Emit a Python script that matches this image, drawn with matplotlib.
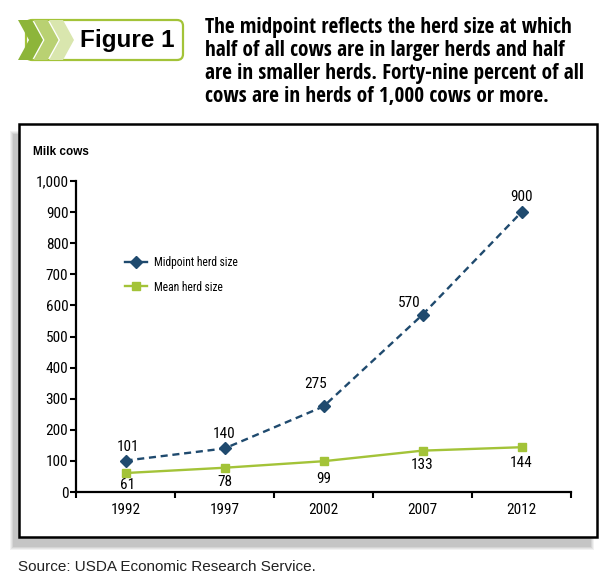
import matplotlib
matplotlib.use("Agg")
import matplotlib.pyplot as plt
from matplotlib.patches import Polygon, Rectangle, FancyBboxPatch
from matplotlib import font_manager
from matplotlib.font_manager import FontProperties

# --- data ---
years = ["1992", "1997", "2002", "2007", "2012"]
midpoint = [101, 140, 275, 570, 900]
mean = [61, 78, 99, 133, 144]
y_ticks = [0, 100, 200, 300, 400, 500, 600, 700, 800, 900, 1000]
y_tick_labels = ["0", "100", "200", "300", "400", "500", "600", "700", "800", "900", "1,000"]

header_lines = [
    "The midpoint reflects the herd size at which",
    "half of all cows are in larger herds and half",
    "are in smaller herds. Forty-nine percent of all",
    "cows are in herds of 1,000 cows or more.",
]

W, H = 610, 588
NAVY = "#1f4a6e"
GREEN = "#a3c338"


def find_narrow(bold):
    # look for a condensed / narrow face among the installed fonts
    best = None
    for f in font_manager.fontManager.ttflist:
        narrow = ("Narrow" in f.name or "Condensed" in f.name
                  or "ondensed" in str(f.stretch) or str(f.stretch) in ("condensed", "semi-condensed"))
        if not narrow or f.style != "normal":
            continue
        w = f.weight if isinstance(f.weight, int) else (700 if f.weight == "bold" else 400)
        if (w >= 600) != bold:
            continue
        score = 0
        if "Liberation" in f.name:
            score = 3
        elif "Roboto" in f.name or "Open Sans" in f.name:
            score = 2
        elif "DejaVu" in f.name:
            score = 1
        if best is None or score > best[0]:
            best = (score, f.fname)
    return best[1] if best else None


def narrow_font(size, bold=False):
    path = find_narrow(bold)
    if path:
        return FontProperties(fname=path, size=size)
    return FontProperties(family="DejaVu Sans", size=size * 0.85,
                          weight="bold" if bold else "normal")


ARIAL = "Liberation Sans"


def fx(x):
    return x / W


def fy(y):
    return 1 - y / H


fig = plt.figure(figsize=(W / 100, H / 100), dpi=100)

# --- header: chevrons + "Figure 1" box ---
top, bot = 20, 60
mid = (top + bot) / 2
box = FancyBboxPatch((fx(26), fy(bot)), fx(183) - fx(26), fy(top) - fy(bot),
                     boxstyle="round,pad=0,rounding_size=0.01",
                     transform=fig.transFigure, fc="white", ec=GREEN, lw=1.6)
fig.add_artist(box)
chev_cols = ["#8db53a", "#b9d172", "#d9e6ae"]
a, d = 14, 11
for i, c in enumerate(chev_cols):
    x0 = 18 + i * 15.5
    pts = [(x0, top), (x0 + a, top), (x0 + a + d, mid), (x0 + a, bot), (x0, bot), (x0 + d, mid)]
    fig.add_artist(Polygon([(fx(px), fy(py)) for px, py in pts], closed=True,
                           transform=fig.transFigure, fc=c, ec="none"))
fig.text(fx(127), fy(41), "Figure 1", ha="center", va="center",
         fontsize=17.5, fontweight="bold", family=ARIAL)

hdr_font = narrow_font(15.3, bold=True)
for i, line in enumerate(header_lines):
    fig.text(fx(205), fy(27 + i * 23.3), line, ha="left", va="center",
             fontproperties=hdr_font)

# --- frame with shadow ---
bx0, by0, bx1, by1 = 19, 124, 597, 537
for k, alpha in enumerate([0.10, 0.12, 0.15, 0.18]):
    grow = 3 - k
    sx0, sy0 = bx0 - 6 - grow, by0 + 10 - grow
    sx1, sy1 = bx1 - 6 + grow, by1 + 10 + grow
    fig.add_artist(Rectangle((fx(sx0), fy(sy1)), fx(sx1) - fx(sx0), fy(sy0) - fy(sy1),
                             transform=fig.transFigure, fc="#808080", ec="none", alpha=alpha))
fig.add_artist(Rectangle((fx(bx0), fy(by1)), fx(bx1) - fx(bx0), fy(by0) - fy(by1),
                         transform=fig.transFigure, fc="white", ec="black", lw=1.8))

# --- plot area ---
ax_l, ax_r, ax_t, ax_b = 76, 571, 181, 492
ax = fig.add_axes([fx(ax_l), fy(ax_b), fx(ax_r) - fx(ax_l), fy(ax_t) - fy(ax_b)])
ax.set_facecolor("none")
ax.set_zorder(3)

x = list(range(len(years)))
ax.plot(x, midpoint, color=NAVY, lw=1.7, ls=(0, (3.0, 2.0)), marker="D", ms=6.5,
        mec=NAVY, mfc=NAVY, label="Midpoint herd size", clip_on=False)
ax.plot(x, mean, color=GREEN, lw=1.7, marker="s", ms=5.5,
        mec=GREEN, mfc=GREEN, label="Mean herd size", clip_on=False)

ax.set_xlim(-0.5, 4.5)
ax.set_ylim(0, 1000)
for s in ["top", "right"]:
    ax.spines[s].set_visible(False)
for s in ["left", "bottom"]:
    ax.spines[s].set_linewidth(1.6)
    ax.spines[s].set_color("black")

lbl_font = narrow_font(11)
ax.set_yticks(y_ticks, y_tick_labels)
ax.set_xticks([i - 0.5 for i in range(len(years) + 1)], [""] * (len(years) + 1))
ax.set_xticks(x, years, minor=True)
ax.tick_params(axis="y", direction="out", length=4, width=1.5, pad=1.5)
ax.tick_params(axis="x", which="major", direction="out", length=4, width=1.5)
ax.tick_params(axis="x", which="minor", length=0, pad=8)
for lab in ax.get_yticklabels() + ax.get_xticklabels(minor=True):
    lab.set_fontproperties(lbl_font)

# data labels (offsets in pixels -> points)
mid_off = [(3, -14), (0, -14), (-8, -22), (-13, -12), (0, -15)]
mean_off = [(2, 12), (0, 14), (0, 18), (0, 14), (0, 16)]
for i in x:
    dx, dy = mid_off[i]
    ax.annotate(str(midpoint[i]), (i, midpoint[i]), xytext=(dx * 0.72, -dy * 0.72),
                textcoords="offset points", ha="center", va="center",
                fontproperties=lbl_font)
    dx, dy = mean_off[i]
    ax.annotate(str(mean[i]), (i, mean[i]), xytext=(dx * 0.72, -dy * 0.72),
                textcoords="offset points", ha="center", va="center",
                fontproperties=lbl_font)

leg = ax.legend(loc="upper left", bbox_to_anchor=((125 - ax_l) / (ax_r - ax_l), (ax_b - 256) / (ax_b - ax_t)),
                frameon=False, borderpad=0, borderaxespad=0, handlelength=1.9,
                handletextpad=0.6, labelspacing=1.0, prop=narrow_font(8.3))
for h in leg.legend_handles:
    h.set_linestyle("-")

fig.text(fx(33), fy(152), "Milk cows", ha="left", va="center",
         fontsize=8.5, fontweight="bold", family=ARIAL)

fig.text(fx(18), fy(567), "Source: USDA Economic Research Service.", ha="left", va="center",
         fontsize=11, family=ARIAL, color="#222222")

fig.savefig("out.png", dpi=100)
